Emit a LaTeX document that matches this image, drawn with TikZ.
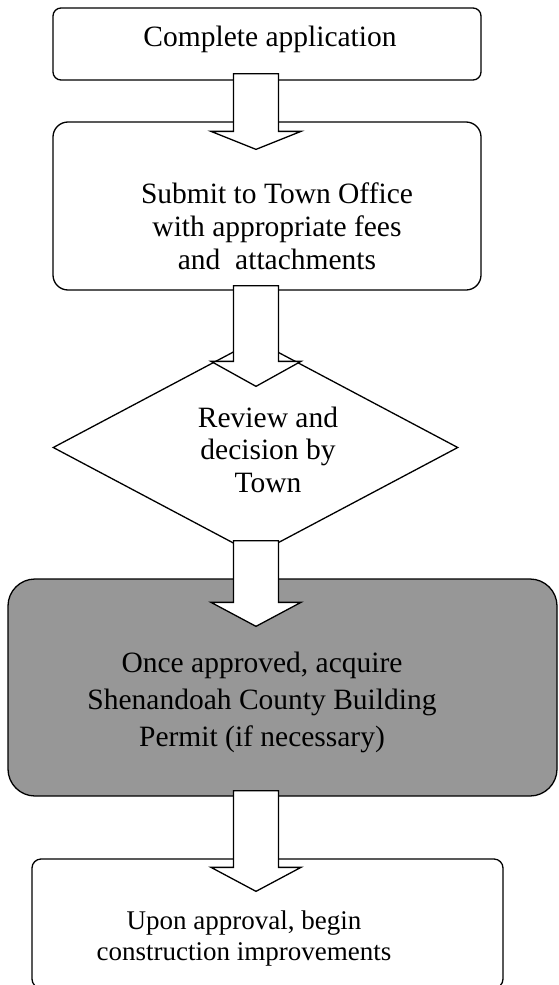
\documentclass[tikz,border=0pt]{standalone}
\usepackage{fontspec}
\setmainfont{Liberation Serif}
\usetikzlibrary{shapes.geometric,calc}
\definecolor{boxgray}{RGB}{151,151,151}
\newcommand\blockarrow[3]{%
  \filldraw[barrow] let \p1=(#1), \p2=(#2) in
  (\x1-22.5pt,\y1) -- (\x1+22.5pt,\y1) -- (\x1+22.5pt,\y2+#3) -- (\x1+45pt,\y2+#3)
  -- (\x2,\y2) -- (\x1-45pt,\y2+#3) -- (\x1-22.5pt,\y2+#3) -- cycle;}
\begin{document}
\begin{tikzpicture}[x=1pt,y=-1pt,
  box/.style={draw=black, line width=1.3pt, fill=white, inner sep=0pt, rounded corners=#1},
  box/.default=8pt,
  barrow/.style={draw=black, fill=white, line width=1.3pt, line join=miter},
  txt/.style={inner sep=0pt, anchor=base, font=\fontsize{29.5}{33}\selectfont},
]
\useasboundingbox (0,0) rectangle (559,985);
\clip (0,0) rectangle (559,985);
% boxes
\node[box=8pt, minimum width=428pt, minimum height=72pt] (b1) at (267,44) {};
\node[box=15pt, minimum width=428pt, minimum height=168pt] (b2) at (267,206) {};
\node[diamond, draw=black, line width=1.3pt, fill=white, inner sep=0pt,
      minimum width=405pt, minimum height=215pt] (d) at (255.5,447.5) {};
\node[box=27pt, fill=boxgray, minimum width=549pt, minimum height=217pt] (g) at (282.5,687.5) {};
\node[box=9pt, minimum width=471pt, minimum height=129pt] (b5) at (267.5,923.5) {};
% texts
\node[txt] (t1) at (270,46) {Complete application};
\node[txt] (t2) at (277,203) {\begin{tabular}[t]{@{}c@{}}Submit to Town Office\\with appropriate fees\\and\ \ attachments\end{tabular}};
\node[txt, font=\fontsize{29.5}{32.5}\selectfont] (t3) at (268,427) {\begin{tabular}[t]{@{}c@{}}Review and\\decision by\\Town\end{tabular}};
\node[txt, font=\fontsize{29.5}{37}\selectfont] (t4) at (262,672) {\begin{tabular}[t]{@{}c@{}}Once approved, acquire\\Shenandoah County Building\\Permit (if necessary)\end{tabular}};
\node[txt, font=\fontsize{27}{31}\selectfont] (t5) at (244,929) {\begin{tabular}[t]{@{}c@{}}Upon approval, begin\\construction improvements\end{tabular}};
% arrows
\coordinate (ax) at (256,0);
\coordinate (a1s) at ($(b1.south -| ax)+(0,-7)$);
\coordinate (a1t) at ($(b2.north -| ax)+(0,28)$);
\coordinate (a2s) at ($(b2.south -| ax)+(0,-5)$);
\coordinate (a2t) at ($(d.north -| ax)+(0,47)$);
\coordinate (a3s) at ($(d.south -| ax)+(0,-15)$);
\coordinate (a3t) at ($(g.north -| ax)+(0,48)$);
\coordinate (a4s) at ($(g.south -| ax)+(0,-6)$);
\coordinate (a4t) at ($(b5.north -| ax)+(0,33)$);
\blockarrow{a1s}{a1t}{18pt}
\blockarrow{a2s}{a2t}{25pt}
\blockarrow{a3s}{a3t}{24pt}
\blockarrow{a4s}{a4t}{24pt}
\end{tikzpicture}
\end{document}
